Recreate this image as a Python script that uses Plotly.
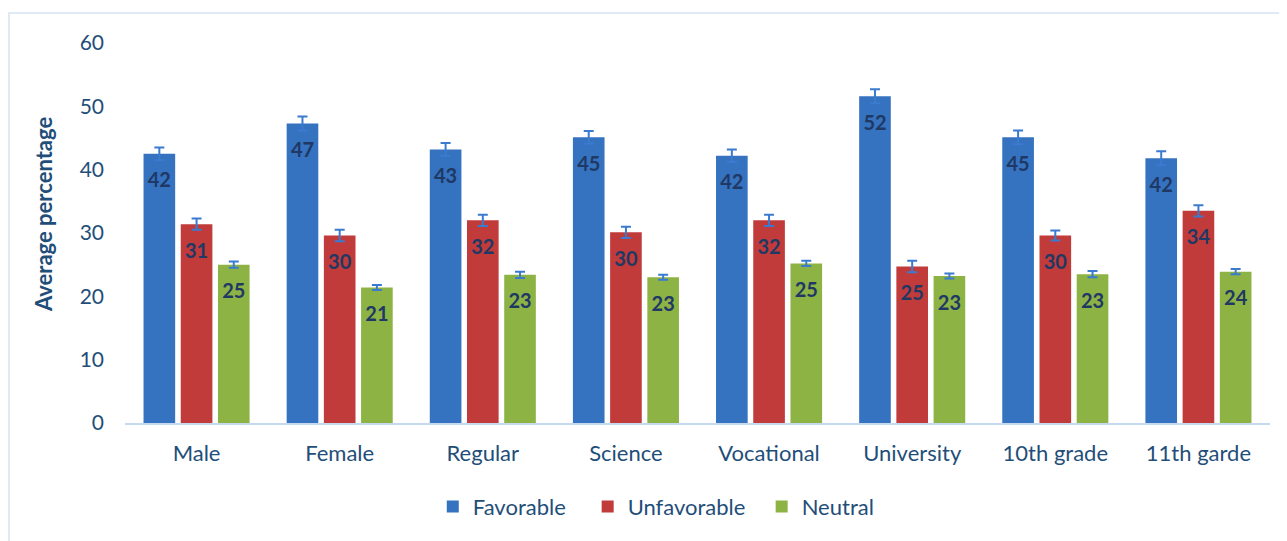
import plotly.graph_objects as go

categories = ["Male", "Female", "Regular", "Science", "Vocational", "University", "10th grade", "11th garde"]
favorable = [42.5, 47.3, 43.2, 45.1, 42.2, 51.6, 45.1, 41.8]
unfavorable = [31.4, 29.6, 32.0, 30.1, 32.0, 24.7, 29.6, 33.5]
neutral = [25.0, 21.4, 23.4, 23.0, 25.2, 23.2, 23.5, 23.9]
fav_err = [1.0, 1.1, 1.0, 1.0, 1.0, 1.1, 1.1, 1.1]
unf_err = [0.9, 0.9, 0.9, 0.9, 0.9, 0.9, 0.8, 0.9]
neu_err = [0.5, 0.4, 0.5, 0.4, 0.4, 0.4, 0.5, 0.4]
labels_fav = ["42", "47", "43", "45", "42", "52", "45", "42"]
labels_unf = ["31", "30", "32", "30", "32", "25", "30", "34"]
labels_neu = ["25", "21", "23", "23", "25", "23", "23", "24"]
series_names = ["Favorable", "Unfavorable", "Neutral"]
y_title = "Average percentage"

text_color = "#1f4e79"
label_color = "#1f3864"
err_color = "#3a7bd0"
NB = "\u00a0"

fig = go.Figure()
series = [
    (series_names[0], NB * 3, favorable, fav_err, labels_fav, "#3572c0"),
    (series_names[1], NB * 2, unfavorable, unf_err, labels_unf, "#c13b3a"),
    (series_names[2], "", neutral, neu_err, labels_neu, "#8db345"),
]
for name, pad, vals, errs, labs, col in series:
    fig.add_trace(go.Bar(
        name=name + pad, x=categories, y=vals,
        marker=dict(color=col, line=dict(width=0)),
        error_y=dict(type="data", array=errs, visible=True, color=err_color, thickness=2, width=5),
    ))
# value labels: grouped like the bars, placed just under each bar top
for name, pad, vals, errs, labs, col in series:
    fig.add_trace(go.Scatter(
        x=categories, y=vals, mode="markers+text", text=labs,
        textposition="bottom center",
        marker=dict(size=28, opacity=0),
        textfont=dict(family="Lato", size=20, color=label_color, weight="bold"),
        showlegend=False, hoverinfo="skip", cliponaxis=False,
    ))

W, H = 1279, 533
L, R, T, B = 117, 17, 35, 118
PW, PH = W - L - R, H - T - B
fig.update_layout(
    width=W, height=H,
    margin=dict(l=L, r=R, t=T, b=B),
    paper_bgcolor="white", plot_bgcolor="white",
    barmode="group", bargap=0.22, bargroupgap=0.15,
    scattermode="group", scattergap=0.22,
    font=dict(family="Lato", color=text_color, size=20),
    showlegend=True,
    legend=dict(orientation="h", x=0.464, xanchor="center", y=-0.165, yanchor="top",
                font=dict(size=22, color=text_color), traceorder="normal",
                itemwidth=30, tracegroupgap=0),
    xaxis=dict(showgrid=False, showline=True, linecolor="#c6d9f0", linewidth=2,
               ticks="", ticklabelstandoff=10, tickfont=dict(size=22, color=text_color)),
    yaxis=dict(range=[0, 60], dtick=10, showgrid=False, zeroline=False, showline=False,
               ticks="", ticklen=0, ticklabelstandoff=20, tickfont=dict(size=21, color=text_color)),
    annotations=[dict(text="<b>" + y_title + "</b>", textangle=-90, xref="paper", yref="paper",
                      x=-82 / PW, y=208 / PH, xanchor="center", yanchor="middle", showarrow=False,
                      font=dict(size=22, color=text_color))],
    shapes=[dict(type="rect", xref="paper", yref="paper",
                 x0=-(L - 1) / PW, x1=1.03, y0=-0.4, y1=1 + (T - 5) / PH,
                 line=dict(color="#d6e3f3", width=1.5), fillcolor="rgba(0,0,0,0)", layer="below")],
)

fig.write_html("out.html")
